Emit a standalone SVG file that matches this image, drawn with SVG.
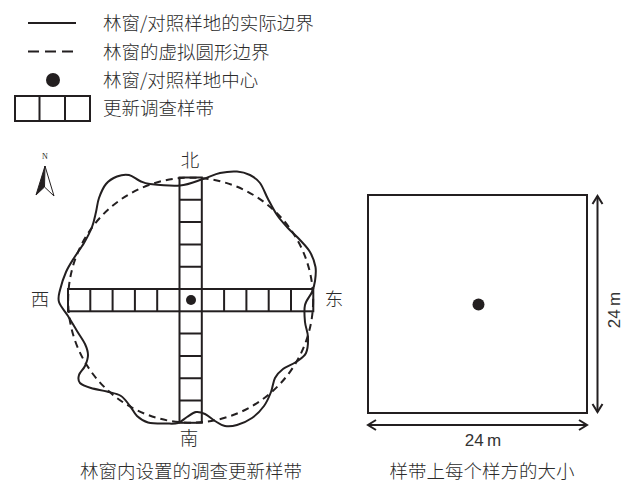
<svg xmlns="http://www.w3.org/2000/svg" width="628" height="484" viewBox="0 0 628 484">
<style>
.t{font-family:"Noto Sans CJK SC","Noto Sans",sans-serif;font-size:18.5px;font-weight:300;fill:#2b2b2b}
.c{text-anchor:middle}
.en{font-family:"Liberation Sans","Noto Sans",sans-serif;font-size:17px;fill:#333;text-anchor:middle;word-spacing:-1.5px}
.ln{fill:none;stroke:#231f20;stroke-width:2}
.dash{fill:none;stroke:#231f20;stroke-width:2;stroke-dasharray:7 5}
.dot{fill:#231f20}
</style>
<defs>
<marker id="arr" viewBox="-10 -7 12 14" markerWidth="12" markerHeight="14" refX="0" refY="0" orient="auto-start-reverse" markerUnits="userSpaceOnUse">
<path d="M-8,-5 L0,0 L-8,5" fill="none" stroke="#231f20" stroke-width="2"/>
</marker>
</defs>
<rect width="628" height="484" fill="#fff"/>

<g id="legend">
<line class="ln" x1="28" y1="23" x2="76" y2="23" stroke-width="2.5"/>
<line class="ln" x1="28" y1="51.5" x2="73" y2="51.5" stroke-width="2.5" stroke-dasharray="11 6"/>
<circle class="dot" cx="53" cy="80" r="7"/>
<rect class="ln" x="15" y="96" width="75" height="25"/>
<line class="ln" x1="39.5" y1="96" x2="39.5" y2="121"/>
<line class="ln" x1="65" y1="96" x2="65" y2="121"/>
<text class="t" x="103" y="30">林窗/对照样地的实际边界</text>
<text class="t" x="103" y="58.5">林窗的虚拟圆形边界</text>
<text class="t" x="103" y="87">林窗/对照样地中心</text>
<text class="t" x="103" y="115">更新调查样带</text>
</g>

<g id="compass">
<text x="45" y="159" font-family="Liberation Serif,serif" font-size="8" text-anchor="middle" fill="#231f20">N</text>
<path d="M45,166 L36,195 L44.5,187 Z" fill="#231f20" stroke="#231f20" stroke-width="1"/>
<path d="M45,166 L54,196 L44.5,187 Z" fill="#fff" stroke="#231f20" stroke-width="1"/>
</g>

<g id="window">
<circle class="dash" cx="190.65" cy="300.15" r="122.5"/>
<path class="ln" d="M150,184 C156.67,184.75 171.17,186.33 180,185.5 S196.33,181.08 203,179 S214.33,174.25 220,173 S232,171.17 237,171.5 S246.17,173.08 250,175 S257,179 260,183 S265.17,193.67 268,199 S273.83,210.33 277,215 S283.17,222.83 287,227 S296.17,235.83 300,240 S307.42,247.5 310,252 S314.67,262.17 315.5,267 S315.58,276.83 315,281 S313.67,288 312,292 S306.17,300 305,305 S304.5,316.67 305,322 S307.83,331.83 308,337 S308,348.83 306,353 S299.83,359.33 296,362 S286.5,366.33 283,369 S277,374.17 275,378 S272.83,387.33 271,392 S267.17,401.67 264,406 S256.5,414.83 252,418 S241.5,423.67 237,425 S228.67,426.67 225,426 S218.33,423 215,421 S208.17,415.5 205,414 S199,411.5 196,412 S190,415.17 187,417 S181.5,421.92 178,423 S171,423.58 166,423.5 S152.83,423.75 148,422.5 S140,418.75 137,416 S132.67,409.33 130,406 S124.83,398.42 121,396 S112,392.83 107,391.5 S95.5,389.42 91,388 S82,385.17 80,383 S78.17,377.83 79,375 S83.5,369.33 85,366 S88,358.67 88,355 S86.83,348 85,344 S79.83,335.67 77,331 S71,320.83 68,316 S60.33,306.33 59,302 S58.83,295 60,290 S63.67,277.33 66,272 S71,262.83 74,258 S81,248.17 84,243 S90,232.17 92,227 S94.83,216.83 96,212 S97.33,202.67 99,198 S103,187.58 106,184 S113.17,178 117,176.5 S125.17,174.25 129,175 S136.5,179.5 140,181 S143.33,183.25 150,184 Z"/>
</g>

<g id="transect">
<rect class="ln" x="68" y="289" width="245.3" height="22.3"/>
<rect class="ln" x="179.5" y="177.5" width="22.3" height="245.3"/>
<path class="ln" d="M90.3,289V311.3M112.6,289V311.3M134.9,289V311.3M157.2,289V311.3M224.1,289V311.3M246.4,289V311.3M268.7,289V311.3M291,289V311.3M179.5,199.8H201.8M179.5,222.1H201.8M179.5,244.4H201.8M179.5,266.7H201.8M179.5,333.6H201.8M179.5,355.9H201.8M179.5,378.2H201.8M179.5,400.5H201.8"/>
<circle class="dot" cx="191" cy="300" r="5"/>
</g>

<g id="labels-left">
<text class="t c" x="190" y="167">北</text>
<text class="t c" x="40" y="305.5">西</text>
<text class="t c" x="334" y="305.5">东</text>
<text class="t c" x="189" y="444.5">南</text>
<text class="t c" x="191" y="478">林窗内设置的调查更新样带</text>
</g>

<g id="plot">
<rect class="ln" x="368" y="195" width="219" height="218"/>
<circle class="dot" cx="478.5" cy="304.5" r="6"/>
</g>

<g id="dimensions">
<line class="ln" x1="597.5" y1="196" x2="597.5" y2="412" marker-start="url(#arr)" marker-end="url(#arr)"/>
<line class="ln" x1="368" y1="425" x2="587" y2="425" marker-start="url(#arr)" marker-end="url(#arr)"/>
<text class="en" x="483" y="445.5">24 m</text>
<text class="en" transform="translate(620,310) rotate(-90)">24 m</text>
</g>

<g id="labels-right">
<text class="t c" x="482" y="478">样带上每个样方的大小</text>
</g>
</svg>
